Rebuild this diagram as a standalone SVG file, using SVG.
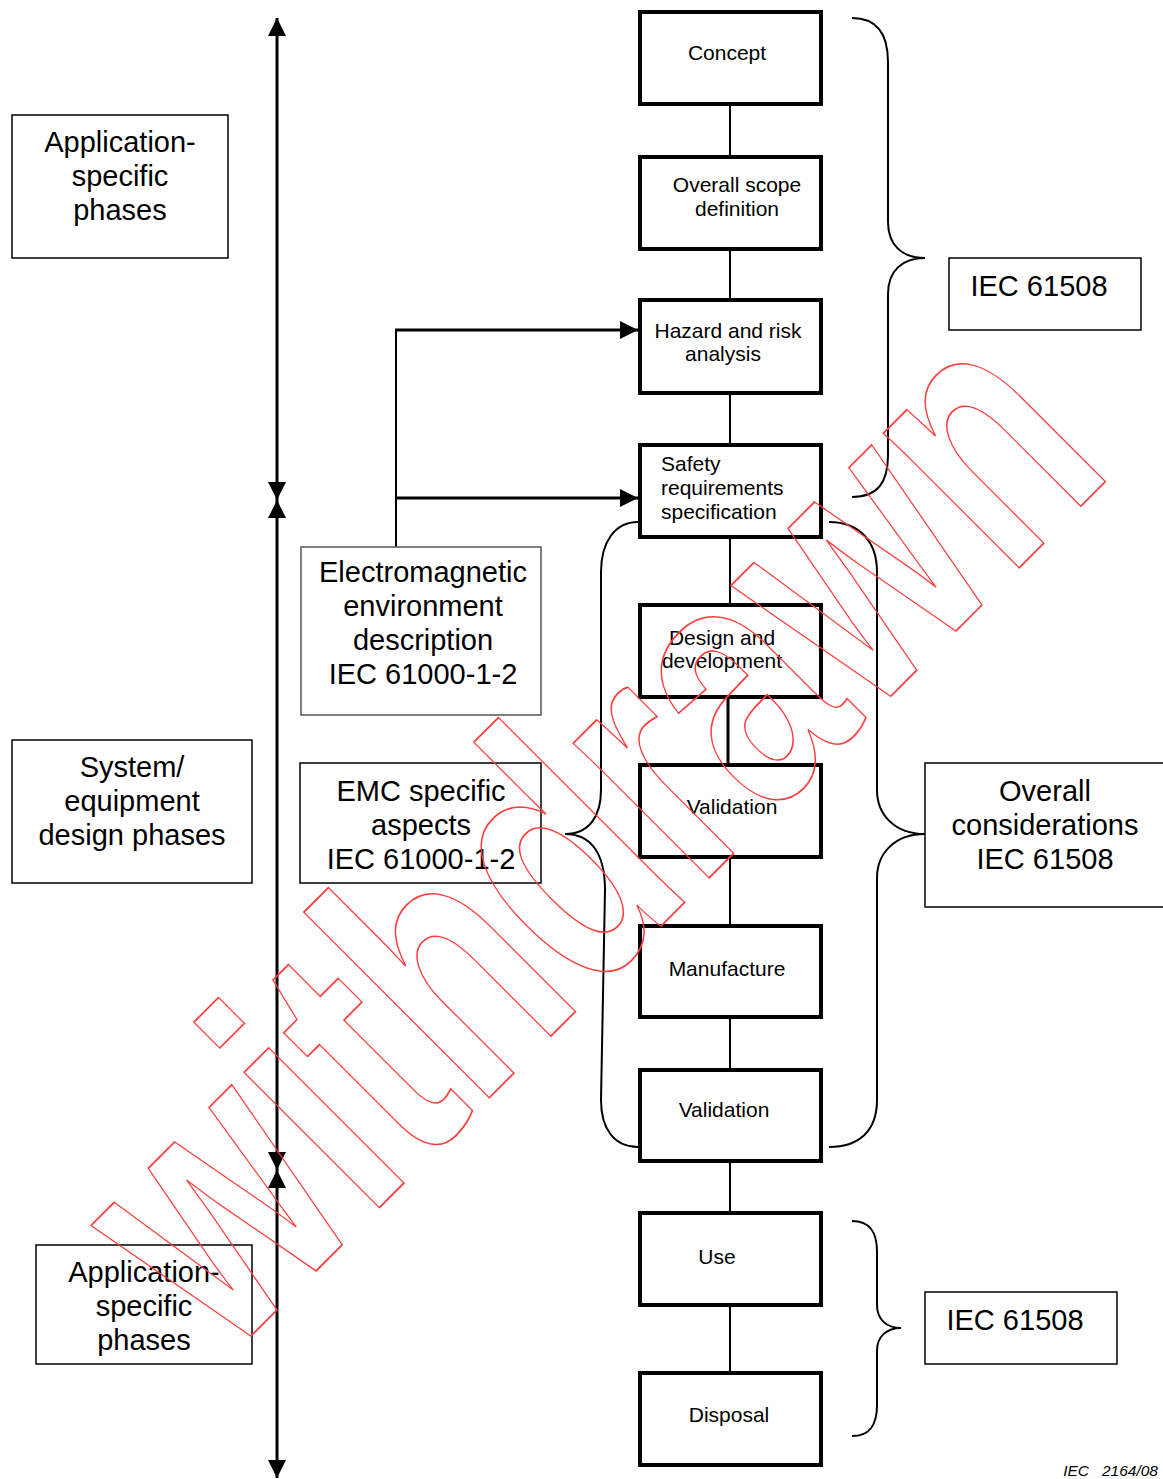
<svg xmlns="http://www.w3.org/2000/svg" width="1163" height="1479" viewBox="0 0 1163 1479">
<style>
  .phase { fill: #fff; stroke: #000; stroke-width: 4; }
  .note { fill: #fff; stroke: #000; stroke-width: 1.5; }
  .t21 { font-family: "Liberation Sans", Arial, sans-serif; font-size: 21px; fill: #000; text-anchor: middle; }
  .t29 { font-family: "Liberation Sans", Arial, sans-serif; font-size: 29px; fill: #000; text-anchor: middle; }
  .link { stroke: #000; stroke-width: 2; fill: none; }
  .axis { stroke: #000; stroke-width: 3; fill: none; }
  .brace { stroke: #000; stroke-width: 2; fill: none; }
</style>
<defs>
  <marker id="ah" markerUnits="userSpaceOnUse" markerWidth="18" markerHeight="18" viewBox="0 0 18 18" refX="18" refY="9" orient="auto-start-reverse">
    <path d="M0,0 L18,9 L0,18 z" fill="#000"/>
  </marker>
</defs>
<rect width="1163" height="1479" fill="#fff"/>

<g id="connectors">
  <path class="axis" d="M277,18 L277,500" marker-start="url(#ah)" marker-end="url(#ah)"/>
  <path class="axis" d="M277,500 L277,1170" marker-start="url(#ah)" marker-end="url(#ah)"/>
  <path class="axis" d="M277,1170 L277,1478" marker-start="url(#ah)" marker-end="url(#ah)"/>
  <path class="link" d="M396,547 L396,330"/>
  <path class="axis" d="M395,330 L638,330" marker-end="url(#ah)"/>
  <path class="axis" d="M395,498 L638,498" marker-end="url(#ah)"/>
  <path class="link" d="M730,106 L730,155"/>
  <path class="link" d="M730,250 L730,300"/>
  <path class="link" d="M730,394 L730,444"/>
  <path class="link" d="M730,538 L730,604"/>
  <path class="axis" d="M728,698 L728,764"/>
  <path class="link" d="M730,858 L730,925"/>
  <path class="link" d="M730,1018 L730,1069"/>
  <path class="link" d="M730,1162 L730,1212"/>
  <path class="link" d="M730,1306 L730,1372"/>
  <path class="brace" d="M852,18 C878,18 888,35 888,62 L888,222 C888,245 902,258 925,258 C902,258 888,271 888,294 L888,455 C888,482 878,497 852,497"/>
  <path class="brace" d="M829,522 C860,522 877,542 877,572 L877,790 C877,815 895,834 925,834 C895,834 877,853 877,878 L877,1100 C877,1130 860,1147 829,1147"/>
  <path class="brace" d="M638,522 C615,522 601,542 601,572 L601,790 C601,815 590,834 565,834 C590,834 605,852 605,890 L601,1100 C601,1130 615,1147 638,1147"/>
  <path class="brace" d="M852,1221 C870,1221 877,1232 877,1252 L877,1305 C877,1320 887,1328 901,1328 C887,1328 877,1336 877,1351 L877,1405 C877,1425 870,1436 852,1436"/>
</g>

<g id="concept"><rect class="phase" x="640" y="12" width="181" height="92"/><text class="t21" x="727" y="60">Concept</text></g>
<g id="scope"><rect class="phase" x="640" y="157" width="181" height="92"/><text class="t21" x="737" y="192">Overall scope</text><text class="t21" x="737" y="216">definition</text></g>
<g id="hazard"><rect class="phase" x="640" y="300" width="181" height="93"/><text class="t21" x="728" y="338">Hazard and risk</text><text class="t21" x="723" y="361">analysis</text></g>
<g id="safety"><rect class="phase" x="640" y="445" width="181" height="92"/><text class="t21" x="661" y="471" style="text-anchor:start">Safety</text><text class="t21" x="661" y="495" style="text-anchor:start">requirements</text><text class="t21" x="661" y="519" style="text-anchor:start">specification</text></g>
<g id="design"><rect class="phase" x="640" y="605" width="181" height="92"/><text class="t21" x="722" y="645">Design and</text><text class="t21" x="722" y="668">development</text></g>
<g id="validation1"><rect class="phase" x="640" y="765" width="181" height="92"/><text class="t21" x="732" y="814">Validation</text></g>
<g id="manufacture"><rect class="phase" x="640" y="926" width="181" height="91"/><text class="t21" x="727" y="976">Manufacture</text></g>
<g id="validation2"><rect class="phase" x="640" y="1070" width="181" height="91"/><text class="t21" x="724" y="1117">Validation</text></g>
<g id="use"><rect class="phase" x="640" y="1213" width="181" height="92"/><text class="t21" x="717" y="1264">Use</text></g>
<g id="disposal"><rect class="phase" x="640" y="1373" width="181" height="92"/><text class="t21" x="729" y="1422">Disposal</text></g>

<g id="app-top"><rect class="note" x="12" y="115" width="216" height="143"/><text class="t29" x="120" y="152">Application-</text><text class="t29" x="120" y="186">specific</text><text class="t29" x="120" y="220">phases</text></g>
<g id="system"><rect class="note" x="12" y="740" width="240" height="143"/><text class="t29" x="132" y="777">System/</text><text class="t29" x="132" y="811">equipment</text><text class="t29" x="132" y="845">design phases</text></g>
<g id="app-bottom"><rect class="note" x="36" y="1245" width="216" height="119"/><text class="t29" x="144" y="1282">Application-</text><text class="t29" x="144" y="1316">specific</text><text class="t29" x="144" y="1350">phases</text></g>
<g id="em-env"><rect class="note" x="301" y="547" width="240" height="168" style="stroke:#555"/><text class="t29" x="423" y="582">Electromagnetic</text><text class="t29" x="423" y="616">environment</text><text class="t29" x="423" y="650">description</text><text class="t29" x="423" y="684">IEC 61000-1-2</text></g>
<g id="emc"><rect class="note" x="300" y="763" width="241" height="120"/><text class="t29" x="421" y="801">EMC specific</text><text class="t29" x="421" y="835">aspects</text><text class="t29" x="421" y="869">IEC 61000-1-2</text></g>
<g id="iec-top"><rect class="note" x="949" y="258" width="192" height="72"/><text class="t29" x="1039" y="296">IEC 61508</text></g>
<g id="overall"><rect class="note" x="925" y="763" width="250" height="144"/><text class="t29" x="1045" y="801">Overall</text><text class="t29" x="1045" y="835">considerations</text><text class="t29" x="1045" y="869">IEC 61508</text></g>
<g id="iec-bottom"><rect class="note" x="925" y="1292" width="192" height="72"/><text class="t29" x="1015" y="1330">IEC 61508</text></g>

<text x="1158" y="1476" font-family="Liberation Sans, Arial, sans-serif" font-size="15.5" font-style="italic" text-anchor="end" xml:space="preserve">IEC   2164/08</text>

<g id="watermark">
  <text transform="translate(226.8,1360.2) rotate(-45) scale(0.703,1)" font-family="Liberation Sans, Arial, sans-serif" font-weight="bold" font-size="362" fill="none" stroke="#ff3b3b" stroke-width="1.5" vector-effect="non-scaling-stroke">withdrawn</text>
</g>
</svg>
